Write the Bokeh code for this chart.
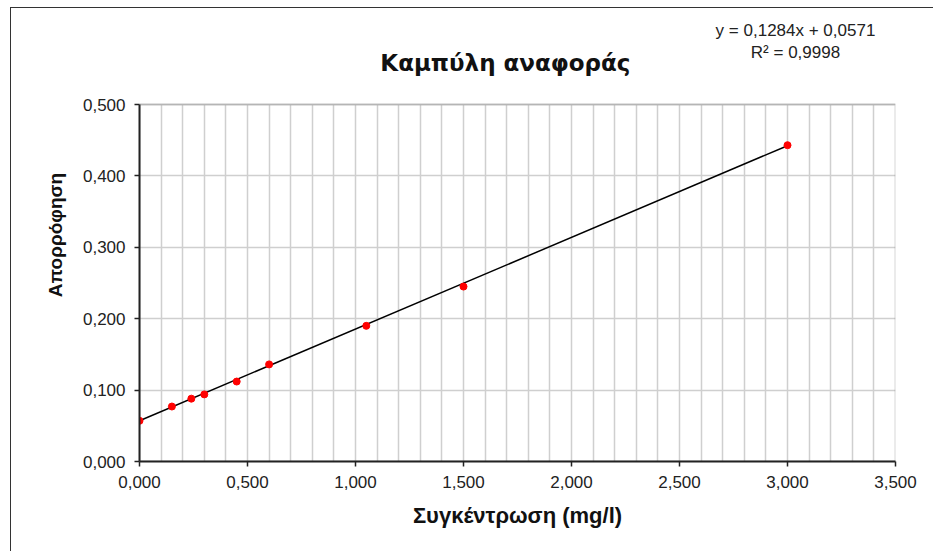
from bokeh.plotting import figure
from bokeh.models import (Range1d, FixedTicker, CustomJSTickFormatter, Label, ColumnDataSource,
                          BoxAnnotation, Grid)
from bokeh.embed import file_html
from bokeh.resources import INLINE

# Data
concentration = [0.0, 0.15, 0.24, 0.30, 0.45, 0.60, 1.05, 1.50, 3.00]
absorbance = [0.057, 0.077, 0.088, 0.094, 0.112, 0.136, 0.190, 0.245, 0.443]
slope = 0.1284
intercept = 0.0571
x_ticks = [0.0, 0.5, 1.0, 1.5, 2.0, 2.5, 3.0, 3.5]
y_ticks = [0.0, 0.1, 0.2, 0.3, 0.4, 0.5]
x_grid = [i / 10 for i in range(0, 36)]

title_text = "Καμπύλη αναφοράς"
x_label = "Συγκέντρωση (mg/l)"
y_label = "Απορρόφηση"
eq_text = "y = 0,1284x + 0,0571"
r2_text = "R² = 0,9998"

FONT = "Liberation Sans"
X_MAX = 3.5
Y_MAX = 0.5
# the frame also holds the header texts: 453 px of frame for 357 px of data area
Y_TOP = Y_MAX * 453 / 357

p = figure(width=923, height=544, output_backend="svg", toolbar_location=None, title=None,
           x_range=Range1d(0, X_MAX), y_range=Range1d(0, Y_TOP),
           min_border_left=128, min_border_right=39, min_border_top=0, min_border_bottom=91)
p.styles = {"margin-left": "10px", "margin-top": "7px",
            "border-left": "1px solid #333333", "border-top": "1px solid #333333"}
p.background_fill_color = "white"
p.border_fill_color = "white"
p.outline_line_color = None

fmt = CustomJSTickFormatter(code="return tick.toFixed(3).replace('.', ',');")
for ax, ticks in ((p.xaxis[0], x_ticks), (p.yaxis[0], y_ticks)):
    ax.ticker = FixedTicker(ticks=ticks)
    ax.formatter = fmt
    ax.major_label_text_font = FONT
    ax.major_label_text_font_size = "17px"
    ax.major_label_text_color = "#222222"
    ax.axis_line_color = "#222222"
    ax.axis_line_width = 2
    ax.major_tick_line_color = "#222222"
    ax.major_tick_line_width = 1.5
    ax.major_tick_in = 0
    ax.major_tick_out = 5
    ax.minor_tick_line_color = None
    ax.axis_label_text_font = FONT
    ax.axis_label_text_font_style = "bold"
    ax.axis_label_text_color = "#111111"

p.yaxis.bounds = (0, Y_MAX)
p.xaxis.axis_label = x_label
p.yaxis.axis_label = y_label
p.xaxis.axis_label_text_font_size = "22px"
p.yaxis.axis_label_text_font_size = "19px"
p.xaxis.major_label_standoff = 9
p.yaxis.major_label_standoff = 9
p.xaxis.axis_label_standoff = 12
p.yaxis.axis_label_standoff = 14

GRID_COLOR = "#cfcfcf"
p.ygrid.ticker = FixedTicker(ticks=y_ticks)
p.ygrid.grid_line_color = GRID_COLOR
p.ygrid.grid_line_width = 1.5
if "cross_bounds" in Grid.properties():
    p.xgrid.ticker = FixedTicker(ticks=x_grid)
    p.xgrid.cross_bounds = (0, Y_MAX)
    p.xgrid.grid_line_color = GRID_COLOR
    p.xgrid.grid_line_width = 1.5
else:
    p.xgrid.grid_line_color = None
    p.segment(x0=x_grid, y0=[0] * len(x_grid), x1=x_grid, y1=[Y_MAX] * len(x_grid),
              line_color=GRID_COLOR, line_width=1.5, level="underlay")

# plot-area border (top and right edges grey)
p.add_layout(BoxAnnotation(left=0, right=X_MAX, bottom=0, top=Y_MAX, fill_alpha=0,
                           line_color="#7a7a7a", line_width=2, level="underlay"))

trend_x = [min(concentration), max(concentration)]
trend_y = [slope * x + intercept for x in trend_x]
p.line(trend_x, trend_y, line_color="black", line_width=1.5)

src = ColumnDataSource(dict(x=concentration, y=absorbance))
p.scatter("x", "y", source=src, size=7, fill_color="red", line_color="red")

p.add_layout(Label(x=1.694, y=0.5588, text=title_text,
                   text_font="DejaVu Sans", text_font_style="bold", text_font_size="23px",
                   text_align="center", text_baseline="middle", text_color="#111111"))
p.add_layout(Label(x=3.037, y=0.6036, text=eq_text,
                   text_font=FONT, text_font_size="17px",
                   text_align="center", text_baseline="middle", text_color="#222222"))
p.add_layout(Label(x=3.037, y=0.5728, text=r2_text,
                   text_font=FONT, text_font_size="17px",
                   text_align="center", text_baseline="middle", text_color="#222222"))

open("out.html", "w").write(file_html(p, INLINE))
